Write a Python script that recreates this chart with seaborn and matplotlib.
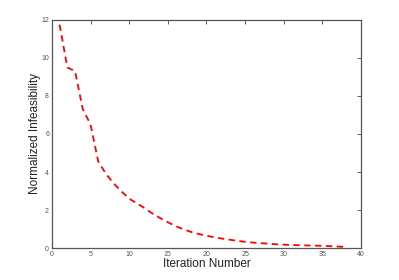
import numpy as np
import pandas as pd
import matplotlib
matplotlib.use("Agg")
import matplotlib.pyplot as plt
import seaborn as sns

# data
iterations = list(range(1, 39))
infeasibility = [11.75, 9.5, 9.3, 7.3, 6.5, 4.55, 3.9, 3.4, 2.98, 2.6,
                 2.35, 2.1, 1.82, 1.58, 1.36, 1.16, 0.99, 0.85, 0.74, 0.65,
                 0.57, 0.5, 0.44, 0.38, 0.33, 0.29, 0.26, 0.23, 0.2, 0.18,
                 0.16, 0.15, 0.14, 0.13, 0.12, 0.1, 0.08, 0.06]
x_ticks = [0, 5, 10, 15, 20, 25, 30, 35, 40]
y_ticks = [0, 2, 4, 6, 8, 10, 12]

df = pd.DataFrame({"Iteration": iterations, "Infeasibility": infeasibility})

sns.set_style("white")
plt.rcParams["font.family"] = ["Liberation Sans", "DejaVu Sans"]

fig = plt.figure(figsize=(3.99, 2.8), dpi=100)
ax = fig.add_axes([0.130, 0.114, 0.775, 0.815])

sns.lineplot(data=df, x="Iteration", y="Infeasibility", ax=ax,
             color="red", linestyle="--", linewidth=1.3, dashes=False)
ax.lines[0].set_dashes([3.5, 2.5])

ax.set_xlim(0, 40)
ax.set_ylim(0, 12)
ax.set_xticks(x_ticks)
ax.set_yticks(y_ticks)
ax.tick_params(direction="in", length=3, width=0.6, labelsize=5,
               labelcolor="#555555", color="#444444",
               top=True, right=True, pad=2)
for s in ax.spines.values():
    s.set_color("#555555")
    s.set_linewidth(0.9)

ax.set_xlabel("Iteration Number", fontsize=8.5, color="#222222", labelpad=0)
ax.set_ylabel("Normalized Infeasibility", fontsize=8.5, color="#222222", labelpad=0)

fig.savefig("out.png", dpi=100)
